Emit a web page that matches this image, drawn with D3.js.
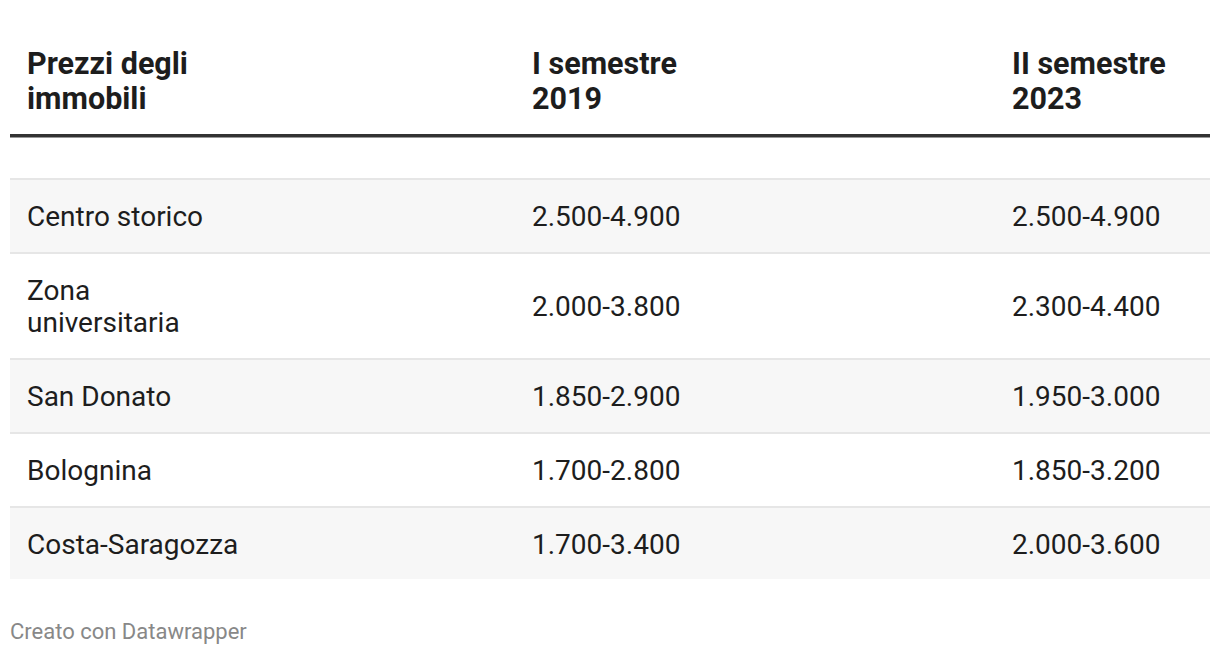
<!DOCTYPE html>
<html>
<head>
<meta charset="utf-8">
<script src="https://d3js.org/d3.v7.min.js"></script>
<style>
  body { margin: 0; background: #fff; }
  svg text { font-family: Roboto, "Noto Sans", sans-serif; }
</style>
</head>
<body>
<div id="vis"></div>
<script>
  // table content
  const headers = [["Prezzi degli", "immobili"], ["I semestre", "2019"], ["II semestre", "2023"]]
  const zones = [["Centro storico"], ["Zona", "universitaria"], ["San Donato"], ["Bolognina"], ["Costa-Saragozza"]]
  const sem2019 = ["2.500-4.900", "2.000-3.800", "1.850-2.900", "1.700-2.800", "1.700-3.400"]
  const sem2023 = ["2.500-4.900", "2.300-4.400", "1.950-3.000", "1.850-3.200", "2.000-3.600"]
  const footer = "Creato con Datawrapper"

  const width = 1220, height = 656
  const left = 10, right = 1210
  const colX = [27, 532, 1012]
  const rowTop = 179, baseRow = 74, lineH = 32

  var svg = d3.select("#vis")
    .append("svg")
    .attr("width", width)
    .attr("height", height)

  // header
  headers.forEach(function(h, i) {
    var t = svg.append("text")
      .attr("x", colX[i])
      .attr("y", 74)
      .style("font-size", "30.5px")
      .style("font-weight", "bold")
      .attr("fill", "#1d1d1d")
    h.forEach(function(line, j) {
      t.append("tspan").attr("x", colX[i]).attr("dy", j == 0 ? 0 : 35).text(line)
    })
  })

  svg.append("rect")
    .attr("x", left).attr("y", 134)
    .attr("width", right - left).attr("height", 3.5)
    .attr("fill", "#333333")

  // row positions from line counts
  var rows = zones.map(function(z, i) {
    return { label: z, a: sem2019[i], b: sem2023[i], h: baseRow + lineH * (z.length - 1) }
  })
  var y = rowTop
  rows.forEach(function(r) { r.y = y; y += r.h })

  var g = svg.selectAll("g.row")
    .data(rows)
    .enter()
    .append("g")
    .attr("class", "row")
    .attr("transform", function(d) { return "translate(0," + d.y + ")" })

  g.append("rect")
    .attr("x", left)
    .attr("width", right - left)
    .attr("height", function(d, i) { return i == rows.length - 1 ? d.h - 2 : d.h })
    .attr("fill", function(d, i) { return i % 2 == 0 ? "#f7f7f7" : "#ffffff" })

  g.append("rect")
    .attr("x", left)
    .attr("y", -1)
    .attr("width", right - left)
    .attr("height", 2)
    .attr("fill", "#e6e6e6")

  var zoneText = g.append("text")
    .attr("x", colX[0])
    .attr("y", function(d) { return d.h / 2 + 9.5 - (d.label.length - 1) * lineH / 2 })
    .style("font-size", "28px")
    .attr("fill", "#1d1d1d")
  zoneText.selectAll("tspan")
    .data(function(d) { return d.label })
    .enter()
    .append("tspan")
    .attr("x", colX[0])
    .attr("dy", function(d, j) { return j == 0 ? 0 : lineH })
    .text(function(d) { return d })

  g.append("text")
    .attr("x", colX[1])
    .attr("y", function(d) { return d.h / 2 + 9.5 })
    .style("font-size", "28px")
    .attr("fill", "#1d1d1d")
    .text(function(d) { return d.a })

  g.append("text")
    .attr("x", colX[2])
    .attr("y", function(d) { return d.h / 2 + 9.5 })
    .style("font-size", "28px")
    .attr("fill", "#1d1d1d")
    .text(function(d) { return d.b })

  svg.append("text")
    .attr("x", 10)
    .attr("y", 639)
    .style("font-size", "22px")
    .attr("fill", "#888888")
    .text(footer)
</script>
</body>
</html>
